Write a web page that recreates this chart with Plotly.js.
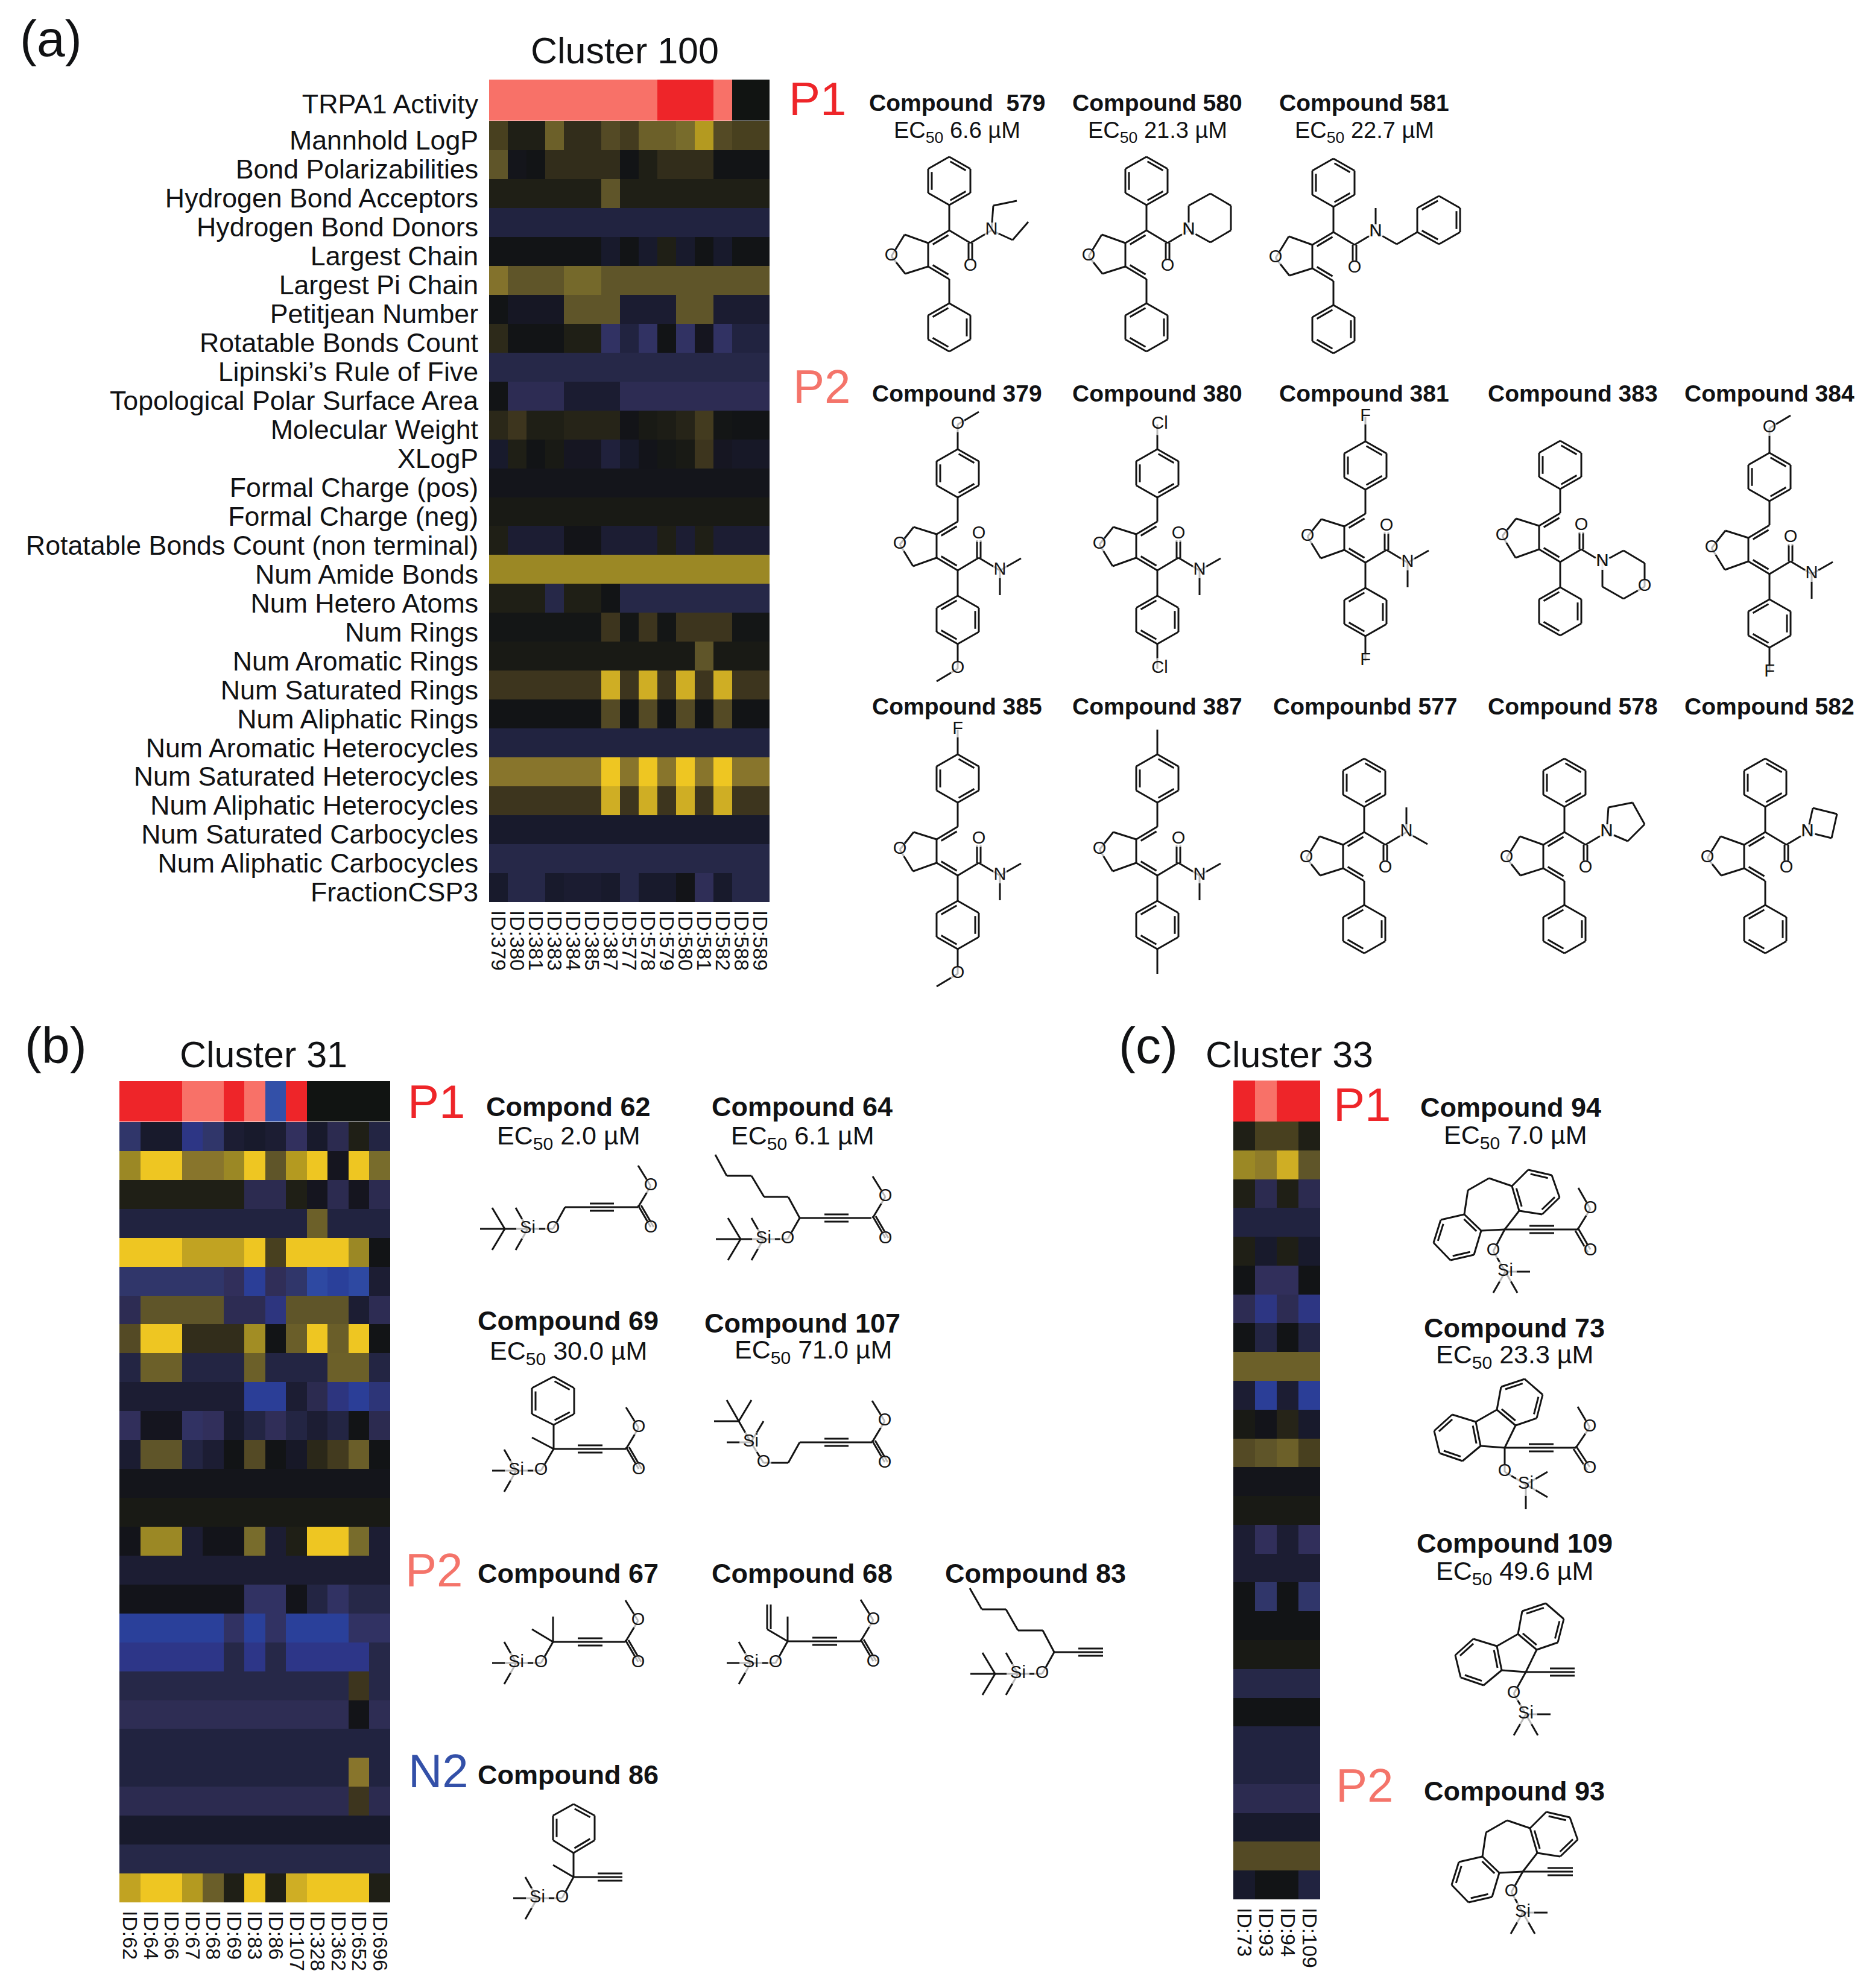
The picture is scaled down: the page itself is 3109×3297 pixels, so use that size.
<!DOCTYPE html>
<html>
<head>
<meta charset="utf-8">
<script src="https://cdn.plot.ly/plotly-3.0.1.min.js"></script>
<style>html,body{margin:0;padding:0;background:#fff}</style>
</head>
<body>
<div id="chart" style="width:3109px;height:3297px"></div>
<script>
var W = 3109, H = 3297;
var FONT = '"Liberation Sans", Arial, sans-serif';
var INK = '#111214';

// ---- data. cell value: -1 (blue) .. 0 (black) .. 1 (yellow)
var rowNames = ['Mannhold LogP','Bond Polarizabilities','Hydrogen Bond Acceptors','Hydrogen Bond Donors','Largest Chain','Largest Pi Chain','Petitjean Number','Rotatable Bonds Count',"Lipinski\u2019s Rule of Five",'Topological Polar Surface Area','Molecular Weight','XLogP','Formal Charge (pos)','Formal Charge (neg)','Rotatable Bonds Count (non terminal)','Num Amide Bonds','Num Hetero Atoms','Num Rings','Num Aromatic Rings','Num Saturated Rings','Num Aliphatic Rings','Num Aromatic Heterocycles','Num Saturated Heterocycles','Num Aliphatic Heterocycles','Num Saturated Carbocycles','Num Aliphatic Carbocycles','FractionCSP3'];

var idsA = ['ID:379','ID:380','ID:381','ID:383','ID:384','ID:385','ID:387','ID:577','ID:578','ID:579','ID:580','ID:581','ID:582','ID:588','ID:589'];
var idsB = ['ID:62','ID:64','ID:66','ID:67','ID:68','ID:69','ID:83','ID:86','ID:107','ID:328','ID:362','ID:652','ID:696'];
var idsC = ['ID:73','ID:93','ID:94','ID:109'];

// activity: 0 none, 1 N2, 2 P2, 3 P1
var activityA = [2,2,2,2,2,2,2,2,2,3,3,3,2,0,0];
var activityB = [3,3,3,2,2,3,2,1,3,0,0,0,0];
var activityC = [3,2,3,3];

var cluster100 = [
 [.25,.07,.07,.43,.15,.15,.3,.22,.43,.43,.5,.76,.3,.25,.25],
 [.36,-.03,0,.15,.15,.15,.15,0,.07,.15,.15,.15,0,0,0],
 [.07,.07,.07,.07,.07,.07,.36,.07,.07,.07,.07,.07,.07,.07,.07],
 [-.2,-.2,-.2,-.2,-.2,-.2,-.2,-.2,-.2,-.2,-.2,-.2,-.2,-.2,-.2],
 [0,0,0,0,0,0,-.1,0,-.1,.07,-.1,0,-.1,0,0],
 [.55,.36,.36,.36,.48,.48,.36,.36,.36,.36,.36,.36,.36,.36,.36],
 [0,-.07,-.07,-.07,.36,.36,.36,-.12,-.12,-.12,.36,.36,-.12,-.12,-.12],
 [.13,0,0,0,.07,.07,-.42,-.2,-.42,0,-.42,-.05,-.42,-.2,-.2],
 [-.25,-.25,-.25,-.25,-.25,-.25,-.25,-.25,-.25,-.25,-.25,-.25,-.25,-.25,-.25],
 [0,-.32,-.32,-.32,-.12,-.12,-.12,-.32,-.32,-.32,-.32,-.32,-.32,-.32,-.32],
 [.12,.18,.07,.07,.1,.1,.1,-.01,.04,.06,.1,.22,.01,0,0],
 [-.1,.07,0,.04,-.06,-.06,-.18,-.09,-.02,.02,.04,.18,-.06,-.08,-.08],
 [-.03,-.03,-.03,-.03,-.03,-.03,-.03,-.03,-.03,-.03,-.03,-.03,-.03,-.03,-.03],
 [.04,.04,.04,.04,.04,.04,.04,.04,.04,.04,.04,.04,.04,.04,.04],
 [.07,-.13,-.13,-.13,-.01,-.01,-.13,-.13,-.13,.07,-.13,.07,-.13,-.13,-.13],
 [.65,.65,.65,.65,.65,.65,.65,.65,.65,.65,.65,.65,.65,.65,.65],
 [.07,.07,.07,-.25,.07,.07,0,-.25,-.25,-.25,-.25,-.25,-.25,-.25,-.25],
 [.01,.01,.01,.01,.01,.01,.18,.01,.18,.01,.18,.18,.18,.01,.01],
 [.04,.04,.04,.04,.04,.04,.04,.04,.04,.04,.04,.36,.04,.04,.04],
 [.18,.18,.18,.18,.18,.18,.87,.18,.87,.18,.87,.18,.87,.18,.18],
 [0,0,0,0,0,0,.3,0,.3,0,.3,0,.3,0,0],
 [-.2,-.2,-.2,-.2,-.2,-.2,-.2,-.2,-.2,-.2,-.2,-.2,-.2,-.2,-.2],
 [.57,.57,.57,.57,.57,.57,1,.57,1,.57,1,.57,1,.57,.57],
 [.18,.18,.18,.18,.18,.18,.87,.18,.87,.18,.87,.18,.87,.18,.18],
 [-.1,-.1,-.1,-.1,-.1,-.1,-.1,-.1,-.1,-.1,-.1,-.1,-.1,-.1,-.1],
 [-.25,-.25,-.25,-.25,-.25,-.25,-.25,-.25,-.25,-.25,-.25,-.25,-.25,-.25,-.25],
 [-.1,-.25,-.25,-.1,-.12,-.12,-.1,-.25,-.1,-.1,-.01,-.35,-.1,-.25,-.25]
];

var cluster31 = [
 [-.45,-.1,-.1,-.7,-.45,-.13,-.1,-.13,-.4,-.1,-.3,.07,-.22],
 [.65,1,1,.57,.57,.65,1,.36,.76,1,-.05,1,.5],
 [.07,.07,.07,.07,.07,.07,-.3,-.3,.07,-.05,-.3,-.05,-.3],
 [-.2,-.2,-.2,-.2,-.2,-.2,-.2,-.2,-.2,.43,-.2,-.2,-.2],
 [1,1,1,.82,.82,.82,1,.25,1,1,1,.65,0],
 [-.45,-.45,-.45,-.45,-.45,-.38,-.85,-.36,-.45,-.95,-.88,-.95,-.13],
 [-.32,.36,.36,.36,.36,-.32,-.32,-.65,.36,.36,.36,-.13,-.32],
 [.3,1,1,.15,.15,.15,.68,0,.42,1,.42,1,0],
 [-.22,.43,.43,-.22,-.22,-.22,.43,-.22,-.22,-.22,.43,.43,-.22],
 [-.13,-.13,-.13,-.13,-.13,-.13,-.85,-.85,-.13,-.3,-.65,-.85,-.6],
 [-.38,-.05,-.05,-.42,-.38,-.1,-.22,-.36,-.22,-.13,-.22,0,-.3],
 [-.12,.36,.36,-.22,-.13,0,.3,0,-.08,.12,.22,.42,0],
 [-.03,-.03,-.03,-.03,-.03,-.03,-.03,-.03,-.03,-.03,-.03,-.03,-.03],
 [.04,.04,.04,.04,.04,.04,.04,.04,.04,.04,.04,.04,.04],
 [-.02,.65,.65,-.13,-.02,-.02,.5,-.13,.07,1,1,.5,-.13],
 [-.13,-.13,-.13,-.13,-.13,-.13,-.13,-.13,-.13,-.13,-.13,-.13,-.13],
 [-.02,-.02,-.02,-.02,-.02,-.02,-.42,-.42,-.02,-.22,-.42,-.25,-.25],
 [-.88,-.88,-.88,-.88,-.88,-.42,-.88,-.42,-.88,-.88,-.88,-.42,-.42],
 [-.72,-.72,-.72,-.72,-.72,-.25,-.72,-.25,-.72,-.72,-.72,-.72,-.25],
 [-.25,-.25,-.25,-.25,-.25,-.25,-.25,-.25,-.25,-.25,-.25,.18,-.25],
 [-.33,-.33,-.33,-.33,-.33,-.33,-.33,-.33,-.33,-.33,-.33,-.01,-.33],
 [-.2,-.2,-.2,-.2,-.2,-.2,-.2,-.2,-.2,-.2,-.2,-.2,-.2],
 [-.2,-.2,-.2,-.2,-.2,-.2,-.2,-.2,-.2,-.2,-.2,.57,-.2],
 [-.3,-.3,-.3,-.3,-.3,-.3,-.3,-.3,-.3,-.3,-.3,.18,-.3],
 [-.1,-.1,-.1,-.1,-.1,-.1,-.1,-.1,-.1,-.1,-.1,-.1,-.1],
 [-.25,-.25,-.25,-.25,-.25,-.25,-.25,-.25,-.25,-.25,-.25,-.25,-.25],
 [.82,1,1,.76,.42,.07,1,.07,.87,1,1,1,.07]
];

var cluster33 = [
 [.07,.25,.25,.07],
 [.65,.6,.87,.36],
 [.07,-.3,.07,-.3],
 [-.2,-.2,-.2,-.2],
 [.07,-.1,.07,-.1],
 [0,-.38,-.38,0],
 [-.32,-.68,-.32,-.68],
 [0,-.22,0,-.22],
 [.43,.43,.43,.43],
 [-.13,-.85,-.13,-.85],
 [.04,-.02,.1,-.1],
 [.3,.36,.43,.25],
 [-.03,-.03,-.03,-.03],
 [.04,.04,.04,.04],
 [-.13,-.38,-.13,-.38],
 [-.13,-.13,-.13,-.13],
 [0,-.45,0,-.45],
 [0,0,0,0],
 [.04,.04,.04,.04],
 [-.25,-.25,-.25,-.25],
 [0,0,0,0],
 [-.2,-.2,-.2,-.2],
 [-.2,-.2,-.2,-.2],
 [-.3,-.3,-.3,-.3],
 [-.1,-.1,-.1,-.1],
 [.3,.3,.3,.3],
 [-.1,0,0,-.2]
];

var heatStops = [[-1,'#3150a8'],[-.88,'#2a409a'],[-.72,'#2d3688'],[-.6,'#2d3578'],[-.45,'#30366a'],[-.4,'#32305e'],[-.3,'#2c2b50'],[-.25,'#262848'],[-.2,'#212340'],[-.13,'#1c1d33'],[-.1,'#181a2c'],[-.05,'#15151f'],[0,'#121416'],[.04,'#191a15'],[.07,'#1f1f16'],[.15,'#322d1b'],[.18,'#3d351e'],[.25,'#48401f'],[.3,'#544a25'],[.36,'#5f5529'],[.43,'#6c6029'],[.5,'#786c2c'],[.57,'#88752c'],[.65,'#9b8825'],[.76,'#b49a20'],[.82,'#c1a322'],[.87,'#cfae24'],[1,'#eec622']];
var heatScale = heatStops.map(function(s){ return [(s[0] + 1) / 2, s[1]]; });
var activityScale = [[0,'#111412'],[.25,'#111412'],[.25,'#3350a8'],[.5,'#3350a8'],[.5,'#f87168'],[.75,'#f87168'],[.75,'#ee2529'],[1,'#ee2529']];

var P1 = '#ee2529', P2 = '#f4746a', N2 = '#3350a8';

// ---- molecule drawings, in page pixels on an overlay axis
var lineX = [], lineY = [];
var atomX = [], atomY = [], atomT = [], atomS = [];

function bond(x1, y1, x2, y2){
	lineX.push(x1, x2, null);
	lineY.push(y1, y2, null);
}
function path(pts){
	for (var i = 0; i < pts.length - 1; i++) bond(pts[i][0], pts[i][1], pts[i+1][0], pts[i+1][1]);
}
// second line of a double bond, shifted towards (cx,cy)
function inner(a, b, cx, cy, off){
	var dx = b[0]-a[0], dy = b[1]-a[1], l = Math.sqrt(dx*dx+dy*dy);
	var nx = -dy/l, ny = dx/l;
	var mx = (a[0]+b[0])/2, my = (a[1]+b[1])/2;
	if ((cx-mx)*nx + (cy-my)*ny < 0) { nx = -nx; ny = -ny; }
	bond(a[0]+dx*.13+nx*off, a[1]+dy*.13+ny*off, b[0]-dx*.13+nx*off, b[1]-dy*.13+ny*off);
}
function ring(pts, dbl){
	var cx = 0, cy = 0;
	pts.forEach(function(p){ cx += p[0]/pts.length; cy += p[1]/pts.length; });
	path(pts.concat([pts[0]]));
	(dbl || []).forEach(function(i){ inner(pts[i], pts[(i+1)%pts.length], cx, cy, 6); });
}
function hex(cx, top, dbl){
	ring([[cx,top],[cx+35,top+20],[cx+35,top+60],[cx,top+80],[cx-35,top+60],[cx-35,top+20]], dbl);
}
function atom(x, y, t){
	atomX.push(x); atomY.push(y); atomT.push(t);
	atomS.push(t === 'Si' ? 38 : (t === 'Cl' ? 36 : 26));
}
function triple(x1, x2, y){
	bond(x1, y-6, x2, y-6);
	bond(x1, y+6, x2, y+6);
}
function carbonyl(x, y1, y2){
	bond(x-3, y1, x-3, y2);
	bond(x+3, y1, x+3, y2);
}
function parasub(x, y, dir, kind){
	if (!kind) return;
	bond(x, y, x, y + dir*41);
	if (kind === 'OMe') {
		atom(x, y + dir*41, 'O');
		bond(x, y + dir*41, x + dir*-35, y + dir*62);
	} else if (kind !== 'Me') {
		atom(x + (kind === 'Cl' ? 4 : 0), y + dir*41, kind);
	}
}
// the shared furan-diene amide; s=1 plain phenyl on the alkene up, s=-1 turned over
function diene(ox, oy, s, upSub, downSub){
	var Y = function(v){ return oy + s*v; };
	path([[ox-35,Y(21)],[ox-35,Y(60)],[ox-73,Y(72)],[ox-96,Y(43)],[ox-74,Y(7)],[ox-35,Y(21)]]);
	atom(ox-96, Y(43), 'O');
	bond(ox, oy, ox-35, Y(21));
	inner([ox,oy], [ox-35,Y(21)], ox-35, Y(60), 6);
	bond(ox-35, Y(60), ox, Y(81));
	inner([ox-35,Y(60)], [ox,Y(81)], ox, oy, 6);
	bond(ox, oy, ox+35, Y(21));
	carbonyl(ox+35, Y(21), Y(50));
	atom(ox+35, Y(60), 'O');
	bond(ox, Y(-42), ox, oy);
	bond(ox, Y(81), ox, Y(121));
	var upTop = s === 1 ? oy-122 : oy-201;
	var lowTop = s === 1 ? oy+121 : oy+42;
	hex(ox, upTop, [0,2,4]);
	hex(ox, lowTop, [1,3,5]);
	parasub(ox, upTop, -1, upSub);
	parasub(ox, lowTop+80, 1, downSub);
	bond(ox+35, Y(21), ox+70, oy);
	atom(ox+70, oy, 'N');
}
function nme2(ox, oy, s){
	bond(ox+70, oy, ox+105, oy+20*s);
	bond(ox+70, oy, ox+70, oy-41*s);
}
function ester(x, y){
	atom(x+21, y-35, 'O');
	bond(x, y, x+21, y-35);
	bond(x+21, y-35, x, y-69);
	bond(x, y-3, x+21, y+33);
	bond(x+5, y-3, x+26, y+33);
	atom(x+21, y+35, 'O');
}
function silylFan(x, y){
	bond(x, y, x-40, y);
	bond(x, y, x-20, y-35);
	bond(x, y, x-20, y+35);
	atom(x, y, 'Si');
}
function tbdms(x, y){
	atom(x, y, 'Si');
	bond(x, y, x-20, y-35);
	bond(x, y, x-20, y+35);
	bond(x, y, x-38, y);
	bond(x-38, y, x-79, y);
	bond(x-38, y, x-59, y-35);
	bond(x-38, y, x-59, y+35);
}
function siBelow(x, y){
	// Si with a methyl right and two down, as in the fused-ring compounds
	atom(x, y, 'Si');
	bond(x, y, x+41, y);
	bond(x, y, x-20, y+35);
	bond(x, y, x+20, y+35);
}
function dibenzo(cx, cy){
	var a = function(dx, dy){ return [cx+dx, cy+dy]; };
	ring([a(-39,2),a(-67,-25),a(-106,-16),a(-118,22),a(-90,51),a(-51,42)], [0,2,4]);
	ring([a(12,-72),a(39,-99),a(78,-90),a(91,-53),a(62,-25),a(24,-31)], [5,1,3]);
	path([a(-67,-25),a(-61,-65),a(-26,-85),a(12,-72)]);
	path([a(-39,2),a(0,0),a(24,-31)]);
}
function fluorene(cx, cy){
	var a = function(dx, dy){ return [cx+dx, cy+dy]; };
	ring([a(-40,-3),a(-48,-43),a(-87,-55),a(-117,-28),a(-108,9),a(-70,22)], [0,2,4]);
	ring([a(-13,-63),a(-6,-101),a(33,-114),a(63,-88),a(53,-49),a(18,-37)], [5,1,3]);
	path([a(-48,-43),a(-13,-63)]);
	path([a(-40,-3),a(0,0),a(18,-37)]);
}

// cluster 100, top row
diene(1574, 382, 1);
path([[1644,382],[1647,341],[1686,333]]);
path([[1644,382],[1679,398],[1705,368]]);
diene(1901, 382, 1);
ring([[1971,382],[1971,341],[2007,321],[2041,341],[2041,382],[2007,402]]);
atom(1971, 382, 'N');
diene(2211, 385, 1);
bond(2281, 385, 2281, 345);
path([[2281,385],[2316,405],[2350,385]]);
ring([[2386,325],[2421,345],[2421,385],[2386,405],[2350,385],[2350,345]], [1,3,5]);
atom(2281, 385, 'N');

// cluster 100, second row
diene(1588, 946, -1, 'OMe', 'OMe');
nme2(1588, 946, -1);
diene(1919, 946, -1, 'Cl', 'Cl');
nme2(1919, 946, -1);
diene(2264, 933, -1, 'F', 'F');
nme2(2264, 933, -1);
diene(2587, 932, -1);
ring([[2657,932],[2692,913],[2727,934],[2727,973],[2692,993],[2657,973]]);
atom(2657, 932, 'N');
atom(2727, 973, 'O');
diene(2934, 952, -1, 'OMe', 'F');
nme2(2934, 952, -1);

// cluster 100, third row
diene(1588, 1452, -1, 'F', 'OMe');
nme2(1588, 1452, -1);
diene(1919, 1452, -1, 'Me', 'Me');
nme2(1919, 1452, -1);
diene(2262, 1380, 1);
nme2(2262, 1380, 1);
diene(2594, 1380, 1);
ring([[2664,1380],[2667,1339],[2707,1331],[2727,1367],[2699,1395]]);
atom(2664, 1380, 'N');
diene(2927, 1380, 1);
ring([[2997,1380],[3006,1340],[3046,1350],[3037,1390]]);
atom(2997, 1380, 'N');

// cluster 31
tbdms(875, 2038);
path([[875,2038],[917,2038],[937,2002],[1058,2002]]);
atom(917, 2038, 'O');
triple(978, 1018, 2002);
ester(1058, 2002);

tbdms(1266, 2055);
path([[1266,2055],[1306,2055],[1326,2020],[1445,2020]]);
atom(1306, 2055, 'O');
path([[1326,2020],[1307,1985],[1267,1985],[1246,1950],[1205,1950],[1186,1915]]);
triple(1367, 1407, 2020);
ester(1447, 2020);

silylFan(856, 2439);
path([[856,2439],[897,2439],[918,2403],[1038,2403]]);
atom(897, 2439, 'O');
bond(918, 2403, 918, 2363);
bond(918, 2403, 882, 2384);
ring([[918,2283],[952,2302],[952,2345],[918,2363],[882,2345],[882,2302]], [0,2,4]);
triple(958, 999, 2403);
ester(1038, 2403);

atom(1245, 2392, 'Si');
bond(1245, 2392, 1205, 2392);
bond(1245, 2392, 1266, 2357);
bond(1245, 2392, 1225, 2357);
bond(1225, 2357, 1184, 2357);
bond(1225, 2357, 1205, 2322);
bond(1225, 2357, 1246, 2322);
path([[1245,2392],[1266,2426],[1307,2426],[1326,2392],[1446,2392]]);
atom(1266, 2426, 'O');
triple(1367, 1407, 2392);
ester(1446, 2392);

silylFan(856, 2758);
path([[856,2758],[897,2758],[917,2723],[1037,2723]]);
atom(897, 2758, 'O');
bond(917, 2723, 917, 2681);
bond(917, 2723, 882, 2702);
triple(958, 999, 2723);
ester(1037, 2723);

silylFan(1245, 2758);
path([[1245,2758],[1286,2758],[1306,2722],[1427,2722]]);
atom(1286, 2758, 'O');
bond(1306, 2722, 1306, 2681);
path([[1306,2722],[1272,2702],[1272,2661]]);
bond(1278, 2702, 1278, 2661);
triple(1347, 1388, 2722);
ester(1427, 2722);

tbdms(1688, 2776);
path([[1688,2776],[1728,2776],[1748,2740],[1829,2740]]);
atom(1728, 2776, 'O');
triple(1788, 1829, 2740);
path([[1748,2740],[1729,2704],[1688,2704],[1668,2669],[1628,2669],[1608,2634]]);

silylFan(891, 3148);
path([[891,3148],[932,3148],[951,3113],[1032,3113]]);
atom(932, 3148, 'O');
triple(991, 1032, 3113);
bond(951, 3113, 951, 3073);
bond(951, 3113, 917, 3093);
ring([[951,2992],[986,3011],[986,3052],[951,3073],[917,3052],[917,3011]], [0,2,4]);

// cluster 33
dibenzo(2495, 2039);
path([[2495,2039],[2616,2039]]);
triple(2536, 2577, 2039);
path([[2495,2039],[2476,2075],[2496,2109]]);
atom(2476, 2075, 'O');
siBelow(2496, 2109);
bond(2616, 2039, 2637, 2005);
bond(2637, 2005, 2617, 1970);
atom(2637, 2005, 'O');
bond(2616, 2036, 2637, 2072);
bond(2612, 2041, 2633, 2077);
atom(2637, 2075, 'O');

fluorene(2495, 2401);
path([[2495,2401],[2613,2401]]);
triple(2535, 2576, 2401);
path([[2495,2401],[2495,2441],[2530,2462]]);
atom(2495, 2441, 'O');
atom(2530, 2462, 'Si');
bond(2530, 2462, 2566, 2441);
bond(2530, 2462, 2566, 2483);
bond(2530, 2462, 2530, 2503);
bond(2613, 2401, 2636, 2367);
bond(2636, 2367, 2616, 2333);
atom(2636, 2367, 'O');
bond(2613, 2398, 2636, 2433);
bond(2609, 2403, 2632, 2438);
atom(2636, 2436, 'O');

fluorene(2530, 2773);
path([[2530,2773],[2611,2773]]);
triple(2570, 2611, 2773);
path([[2530,2773],[2510,2809],[2530,2843]]);
atom(2510, 2809, 'O');
siBelow(2530, 2843);

dibenzo(2525, 3104);
path([[2525,3104],[2608,3104]]);
triple(2566, 2608, 3104);
path([[2525,3104],[2506,3138],[2525,3172]]);
atom(2506, 3138, 'O');
siBelow(2525, 3172);

// ---- page text
var notes = [];
function note(text, x, y, size, color, bold){
	notes.push({text: bold ? '<b>' + text + '</b>' : text, x: x, y: y, xref: 'x4', yref: 'y7',
		showarrow: false, xanchor: 'center', yanchor: 'middle', align: 'center',
		font: {family: FONT, size: size, color: color || INK}});
}
// panel (a) names run a little smaller than (b) and (c)
function compound(name, x, y){ note(name, x, y, 39, INK, true); }
function compoundBig(name, x, y){ note(name, x, y, 45, INK, true); }
function ec50(val, x, y){ note('EC<sub>50</sub> ' + val + ' \u00b5M', x, y, 38); }
function ec50Big(val, x, y){ note('EC<sub>50</sub> ' + val + ' \u00b5M', x, y, 43); }

note('(a)', 84, 64, 84);
note('(b)', 92, 1734, 84);
note('(c)', 1904, 1734, 84);
note('Cluster 100', 1036, 84, 61);
note('Cluster 31', 437, 1749, 61);
note('Cluster 33', 2138, 1749, 61);

note('P1', 1355, 164, 78, P1);
note('P2', 1362, 641, 78, P2);
note('P1', 723, 1827, 78, P1);
note('P2', 719, 2604, 78, P2);
note('N2', 727, 2937, 78, N2);
note('P1', 2258, 1832, 78, P1);
note('P2', 2262, 2961, 78, P2);

compound('Compound  579', 1587, 170); ec50('6.6', 1587, 219);
compound('Compound 580', 1919, 170); ec50('21.3', 1919, 219);
compound('Compound 581', 2262, 170); ec50('22.7', 2262, 219);
compound('Compound 379', 1587, 652);
compound('Compound 380', 1919, 652);
compound('Compound 381', 2262, 652);
compound('Compound 383', 2608, 652);
compound('Compound 384', 2934, 652);
compound('Compound 385', 1587, 1171);
compound('Compound 387', 1919, 1171);
compound('Compounbd 577', 2264, 1171);
compound('Compound 578', 2608, 1171);
compound('Compound 582', 2934, 1171);

compoundBig('Compond 62', 942, 1835); ec50Big('2.0', 942, 1886);
compoundBig('Compound 64', 1330, 1835); ec50Big('6.1', 1330, 1886);
compoundBig('Compound 69', 942, 2190); ec50Big('30.0', 942, 2243);
compoundBig('Compound 107', 1330, 2194); ec50Big('71.0', 1348, 2241);
compoundBig('Compound 67', 942, 2609);
compoundBig('Compound 68', 1330, 2609);
compoundBig('Compound 83', 1717, 2609);
compoundBig('Compound 86', 942, 2943);

compoundBig('Compound 94', 2505, 1836); ec50Big('7.0', 2512, 1885);
compoundBig('Compound 73', 2511, 2202); ec50Big('23.3', 2511, 2249);
compoundBig('Compound 109', 2511, 2559); ec50Big('49.6', 2511, 2608);
compoundBig('Compound 93', 2511, 2970);

// ---- traces
function seq(n){ var a = []; for (var i = 0; i < n; i++) a.push(i); return a; }

function matrixTrace(z, xa, ya){
	return {type: 'heatmap', z: z, x: seq(z[0].length), y: seq(z.length), xaxis: xa, yaxis: ya,
		colorscale: heatScale, zmin: -1, zmax: 1, showscale: false};
}
function stripTrace(act, xa, ya){
	return {type: 'heatmap', z: [act], x: seq(act.length), y: [0], xaxis: xa, yaxis: ya,
		colorscale: activityScale, zmin: 0, zmax: 4, showscale: false};
}

var data = [
	matrixTrace(cluster100, 'x', 'y'), stripTrace(activityA, 'x', 'y2'),
	matrixTrace(cluster31, 'x2', 'y3'), stripTrace(activityB, 'x2', 'y4'),
	matrixTrace(cluster33, 'x3', 'y5'), stripTrace(activityC, 'x3', 'y6'),
	{type: 'scatter', mode: 'lines', x: lineX, y: lineY, xaxis: 'x4', yaxis: 'y7',
		connectgaps: false, line: {color: '#141414', width: 3}, hoverinfo: 'skip'},
	{type: 'scatter', mode: 'markers+text', x: atomX, y: atomY, text: atomT, xaxis: 'x4', yaxis: 'y7',
		textposition: 'middle center', textfont: {family: FONT, size: 29, color: '#141414'},
		marker: {color: '#fff', size: atomS, line: {width: 0}}, hoverinfo: 'skip'}
];

function xAxisFor(ids, left, right, anchor){
	return {domain: [left/W, right/W], range: [-.5, ids.length-.5], anchor: anchor,
		tickmode: 'array', tickvals: seq(ids.length), ticktext: ids, tickangle: 90,
		tickfont: {family: FONT, size: 34, color: INK}, ticks: 'outside', ticklen: 6, tickcolor: 'rgba(0,0,0,0)',
		showgrid: false, zeroline: false, showline: false};
}
function yAxisFor(top, bottom, anchor, labels){
	var ax = {domain: [1-bottom/H, 1-top/H], range: [26.5, -.5], anchor: anchor,
		showgrid: false, zeroline: false, showline: false, ticks: '', showticklabels: false};
	if (labels) {
		ax.tickmode = 'array';
		ax.tickvals = seq(27).map(function(i){ return i + .16; });
		ax.ticktext = labels;
		ax.showticklabels = true;
		ax.ticks = 'outside';
		ax.ticklen = 8;
		ax.tickcolor = 'rgba(0,0,0,0)';
		ax.tickfont = {family: FONT, size: 44.7, color: INK};
	}
	return ax;
}
function stripAxisFor(top, bottom, anchor){
	return {domain: [1-bottom/H, 1-top/H], range: [-.5, .5], anchor: anchor,
		showgrid: false, zeroline: false, showline: false, ticks: '', showticklabels: false};
}

var stripA = stripAxisFor(132, 200, 'x');
stripA.tickmode = 'array';
stripA.tickvals = [-.1];
stripA.ticktext = ['TRPA1 Activity'];
stripA.showticklabels = true;
stripA.ticks = 'outside';
stripA.ticklen = 8;
stripA.tickcolor = 'rgba(0,0,0,0)';
stripA.tickfont = {family: FONT, size: 44.7, color: INK};

var layout = {
	width: W, height: H, margin: {l: 0, r: 0, t: 0, b: 0, pad: 0},
	paper_bgcolor: '#fff', plot_bgcolor: 'rgba(0,0,0,0)', showlegend: false,
	xaxis: xAxisFor(idsA, 811, 1276, 'y'),
	yaxis: yAxisFor(201, 1496, 'x', rowNames),
	yaxis2: stripA,
	xaxis2: xAxisFor(idsB, 198, 647, 'y3'),
	yaxis3: yAxisFor(1861, 3155, 'x2'),
	yaxis4: stripAxisFor(1793, 1860, 'x2'),
	xaxis3: xAxisFor(idsC, 2045, 2189, 'y5'),
	yaxis5: yAxisFor(1860, 3150, 'x3'),
	yaxis6: stripAxisFor(1792, 1860, 'x3'),
	xaxis4: {domain: [0, 1], range: [0, W], visible: false, anchor: 'y7'},
	yaxis7: {domain: [0, 1], range: [H, 0], visible: false, anchor: 'x4'},
	annotations: notes
};

Plotly.newPlot('chart', data, layout, {displayModeBar: false, staticPlot: true});
</script>
</body>
</html>
